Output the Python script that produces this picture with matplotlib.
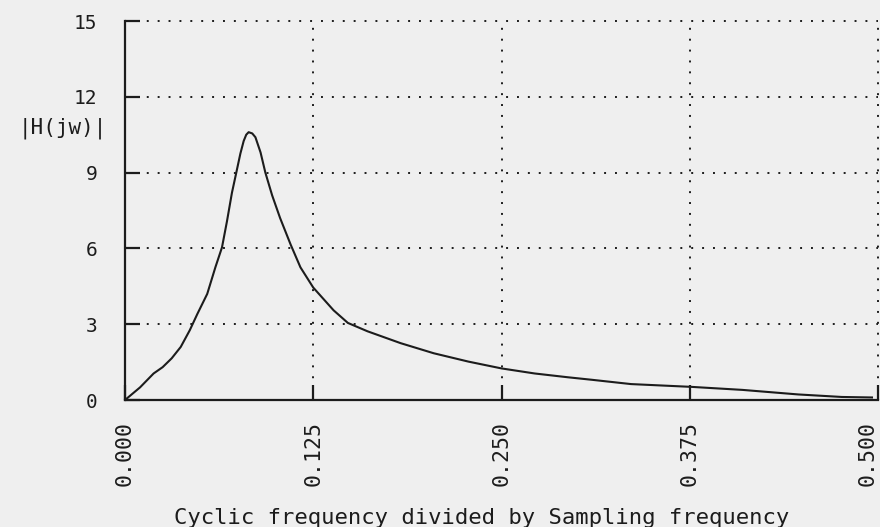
import matplotlib
matplotlib.use("Agg")
import matplotlib.pyplot as plt

# Magnitude response |H(jw)| against normalised frequency f/fs
freq = [0.000, 0.010, 0.019, 0.025, 0.031, 0.037, 0.043, 0.048, 0.0546, 0.060,
        0.0644, 0.0677, 0.071, 0.0739, 0.0766, 0.0788, 0.0805, 0.0821, 0.0845, 0.0866,
        0.090, 0.0932, 0.0977, 0.103, 0.110, 0.1165, 0.125, 0.1385, 0.148, 0.161,
        0.183, 0.205, 0.228, 0.250, 0.272, 0.294, 0.310, 0.336, 0.376, 0.410,
        0.447, 0.476, 0.496]
mag = [0.00, 0.50, 1.05, 1.30, 1.65, 2.10, 2.76, 3.40, 4.20, 5.25,
       6.04, 7.07, 8.20, 9.00, 9.75, 10.25, 10.50, 10.60, 10.55, 10.40,
       9.80, 9.00, 8.10, 7.20, 6.15, 5.25, 4.45, 3.55, 3.05, 2.72,
       2.25, 1.85, 1.52, 1.25, 1.05, 0.90, 0.80, 0.63, 0.52, 0.40,
       0.22, 0.12, 0.10]

x_ticks = [0.0, 0.125, 0.25, 0.375, 0.5]
x_tick_labels = ["0.000", "0.125", "0.250", "0.375", "0.500"]
y_ticks = [0, 3, 6, 9, 12, 15]
y_tick_labels = ["0", "3", "6", "9", "12", "15"]

ink = "#1c1c1c"
paper = "#efefef"
mono = "DejaVu Sans Mono"

W, H = 880, 527
fig = plt.figure(figsize=(W / 100, H / 100), dpi=100, facecolor=paper)
left, right, bottom, top = 125, 878, 400, 21
ax = fig.add_axes([left / W, 1 - bottom / H, (right - left) / W, (bottom - top) / H])
ax.set_facecolor(paper)

ax.plot(freq, mag, color=ink, lw=1.5, solid_joinstyle="round")

ax.set_xlim(0, 0.5)
ax.set_ylim(0, 15)

for s in ("top", "right"):
    ax.spines[s].set_visible(False)
for s in ("left", "bottom"):
    ax.spines[s].set_color(ink)
    ax.spines[s].set_linewidth(1.6)

# dotted grid at every tick
dot = (0, (1.0, 4.6))
for yv in y_ticks[1:]:
    ax.axhline(yv, color=ink, lw=1.4, linestyle=dot, zorder=0, clip_on=False)
for xv in x_ticks[1:]:
    ax.axvline(xv, color=ink, lw=1.4, linestyle=dot, zorder=0, clip_on=False)

ax.set_xticks(x_ticks)
ax.set_xticklabels(x_tick_labels, rotation=90, fontfamily=mono, fontsize=15.5, color=ink)
ax.set_yticks(y_ticks)
ax.set_yticklabels(y_tick_labels, fontfamily=mono, fontsize=14, color=ink)
ax.tick_params(axis="x", direction="in", length=11, width=1.6, color=ink, pad=15)
ax.tick_params(axis="y", direction="in", length=11, width=1.6, color=ink, pad=20)
for t in ax.xaxis.get_major_ticks() + ax.yaxis.get_major_ticks():
    t.tick1line.set_clip_on(False)
# keep the last frequency label inside the page
ax.get_xticklabels()[-1].set_horizontalalignment("right")

fig.text(107 / W, 1 - 128 / H, "|H(jw)|", ha="right", va="center",
         fontfamily=mono, fontsize=15, color=ink)
fig.text(482 / W, 1 - 518 / H, "Cyclic frequency divided by Sampling frequency",
         ha="center", va="center", fontfamily=mono, fontsize=16, color=ink)

fig.savefig("out.png", dpi=100, facecolor=paper)
